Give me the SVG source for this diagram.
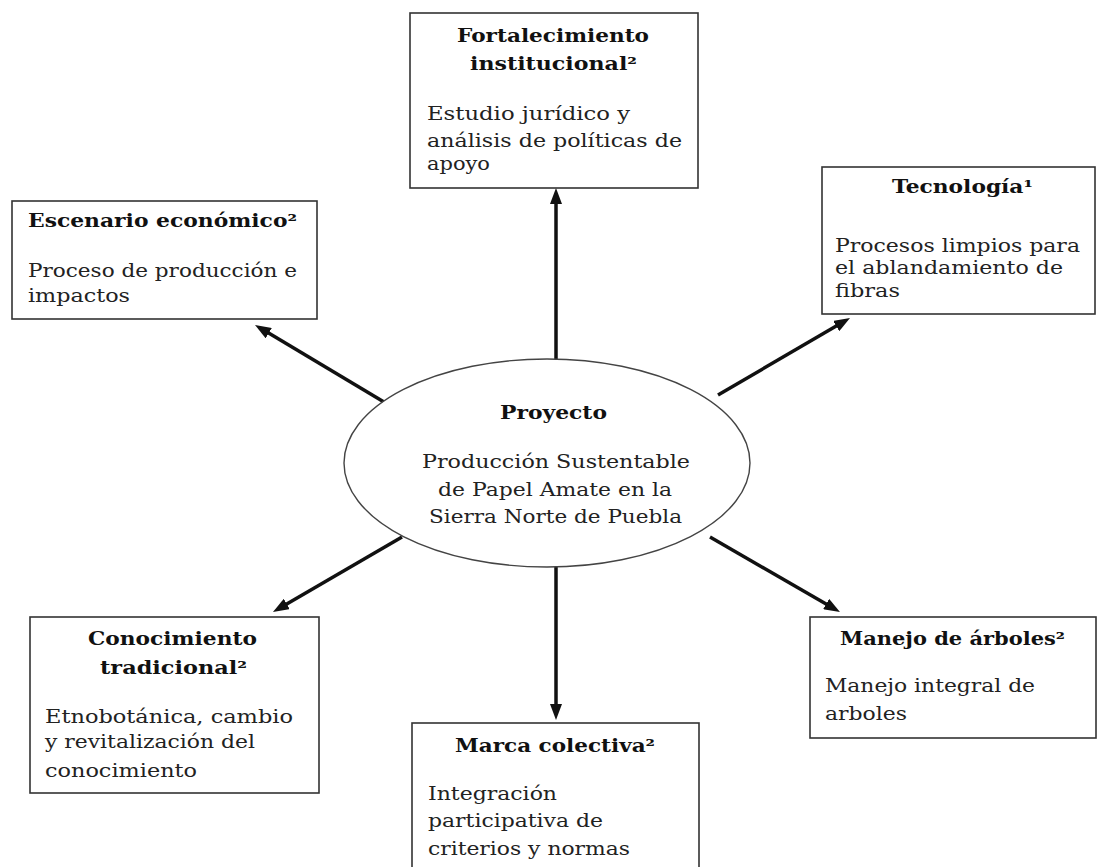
<svg xmlns="http://www.w3.org/2000/svg" width="1098" height="867" viewBox="0 0 1098 867">
<style>
.box{fill:#fff;stroke:#333;stroke-width:1.6}
.ell{fill:#fff;stroke:#444;stroke-width:1.4}
.t{font-family:"DejaVu Serif","Liberation Serif",serif;font-size:18px;font-weight:bold;fill:#111}
.b{font-family:"DejaVu Serif","Liberation Serif",serif;font-size:18px;fill:#222}
.c line{stroke:#111;stroke-width:3.5}
</style>
<defs>
<marker id="ah" markerUnits="userSpaceOnUse" markerWidth="16" markerHeight="12" refX="6" refY="6" orient="auto">
<path d="M0,0 L16,6 L0,12 z" fill="#111"/>
</marker>
</defs>
<rect width="1098" height="867" fill="#fff"/>
<g class="c" id="connectors">
<line x1="556" y1="359" x2="556" y2="198" marker-end="url(#ah)"/>
<line x1="556" y1="567" x2="556" y2="710" marker-end="url(#ah)"/>
<line x1="384" y1="402" x2="263.6" y2="330.1" marker-end="url(#ah)"/>
<line x1="718" y1="395" x2="841.4" y2="323" marker-end="url(#ah)"/>
<line x1="402" y1="537" x2="281.6" y2="607" marker-end="url(#ah)"/>
<line x1="710" y1="537" x2="831.3" y2="607" marker-end="url(#ah)"/>
</g>
<g id="proyecto">
<ellipse class="ell" cx="547" cy="463" rx="203" ry="104"/>
<text class="t" x="500" y="419" textLength="107" lengthAdjust="spacingAndGlyphs">Proyecto</text>
<text class="b" x="422" y="468" textLength="268" lengthAdjust="spacingAndGlyphs">Producción Sustentable</text>
<text class="b" x="438" y="496" textLength="234" lengthAdjust="spacingAndGlyphs">de Papel Amate en la</text>
<text class="b" x="429" y="523" textLength="253" lengthAdjust="spacingAndGlyphs">Sierra Norte de Puebla</text>
</g>
<g id="fortalecimiento">
<rect class="box" x="410" y="13" width="288" height="175"/>
<text class="t" x="457" y="42" textLength="192" lengthAdjust="spacingAndGlyphs">Fortalecimiento</text>
<text class="t" x="470" y="70" textLength="167" lengthAdjust="spacingAndGlyphs">institucional²</text>
<text class="b" x="427" y="120" textLength="203" lengthAdjust="spacingAndGlyphs">Estudio jurídico y</text>
<text class="b" x="427" y="147" textLength="255" lengthAdjust="spacingAndGlyphs">análisis de políticas de</text>
<text class="b" x="427" y="170" textLength="63" lengthAdjust="spacingAndGlyphs">apoyo</text>
</g>
<g id="escenario">
<rect class="box" x="12" y="201" width="305" height="118"/>
<text class="t" x="28" y="227" textLength="269" lengthAdjust="spacingAndGlyphs">Escenario económico²</text>
<text class="b" x="28" y="277" textLength="269" lengthAdjust="spacingAndGlyphs">Proceso de producción e</text>
<text class="b" x="28" y="302" textLength="102" lengthAdjust="spacingAndGlyphs">impactos</text>
</g>
<g id="tecnologia">
<rect class="box" x="822" y="167" width="273" height="147"/>
<text class="t" x="892" y="193" textLength="141" lengthAdjust="spacingAndGlyphs">Tecnología¹</text>
<text class="b" x="835" y="252" textLength="245" lengthAdjust="spacingAndGlyphs">Procesos limpios para</text>
<text class="b" x="835" y="274" textLength="228" lengthAdjust="spacingAndGlyphs">el ablandamiento de</text>
<text class="b" x="835" y="297" textLength="65" lengthAdjust="spacingAndGlyphs">fibras</text>
</g>
<g id="conocimiento">
<rect class="box" x="30" y="617" width="289" height="176"/>
<text class="t" x="88" y="645" textLength="169" lengthAdjust="spacingAndGlyphs">Conocimiento</text>
<text class="t" x="100" y="674" textLength="147" lengthAdjust="spacingAndGlyphs">tradicional²</text>
<text class="b" x="45" y="723" textLength="248" lengthAdjust="spacingAndGlyphs">Etnobotánica, cambio</text>
<text class="b" x="45" y="748" textLength="210" lengthAdjust="spacingAndGlyphs">y revitalización del</text>
<text class="b" x="45" y="777" textLength="152" lengthAdjust="spacingAndGlyphs">conocimiento</text>
</g>
<g id="marca">
<rect class="box" x="412" y="723" width="287" height="160"/>
<text class="t" x="455" y="752" textLength="200" lengthAdjust="spacingAndGlyphs">Marca colectiva²</text>
<text class="b" x="428" y="800" textLength="129" lengthAdjust="spacingAndGlyphs">Integración</text>
<text class="b" x="428" y="827" textLength="175" lengthAdjust="spacingAndGlyphs">participativa de</text>
<text class="b" x="428" y="855" textLength="202" lengthAdjust="spacingAndGlyphs">criterios y normas</text>
</g>
<g id="manejo">
<rect class="box" x="810" y="617" width="286" height="121"/>
<text class="t" x="840" y="645" textLength="225" lengthAdjust="spacingAndGlyphs">Manejo de árboles²</text>
<text class="b" x="825" y="692" textLength="210" lengthAdjust="spacingAndGlyphs">Manejo integral de</text>
<text class="b" x="825" y="720" textLength="82" lengthAdjust="spacingAndGlyphs">arboles</text>
</g>
</svg>
